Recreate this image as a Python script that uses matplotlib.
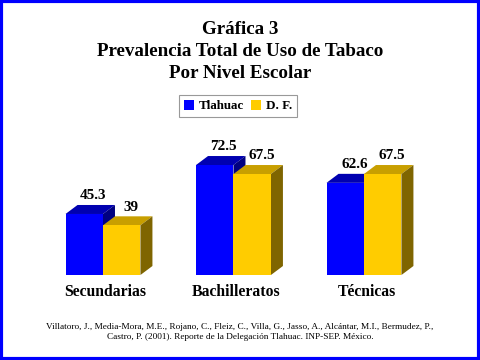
import matplotlib
matplotlib.use("Agg")
import matplotlib.pyplot as plt
from matplotlib.patches import Polygon, Rectangle

categories = ["Secundarias", "Bachilleratos", "Técnicas"]
tlahuac = [45.3, 72.5, 62.6]
df = [39, 67.5, 67.5]
series_names = ["Tlahuac", "D. F."]

title_lines = ["Gráfica 3", "Prevalencia Total de Uso de Tabaco", "Por Nivel Escolar"]
source = ("Villatoro, J., Media-Mora, M.E., Rojano, C., Fleiz, C., Villa, G., Jasso, A., Alcántar, M.I., Bermudez, P.,\n"
          "Castro, P. (2001). Reporte de la Delegación Tlahuac. INP-SEP. México.")

front = ["#0000FF", "#FFCC00"]
top = ["#0000B0", "#C89F00"]
side = ["#000080", "#7F6500"]

serif = ["Liberation Serif", "DejaVu Serif"]

fig = plt.figure(figsize=(4.8, 3.6), dpi=100)
fig.patch.set_facecolor("white")

# blue frame round the slide
fig.add_artist(Rectangle((0.003, 0.004), 0.994, 0.992, transform=fig.transFigure,
                         fill=False, edgecolor="#0000FF", lw=3.0))

for k, line in enumerate(title_lines):
    fig.text(0.5, 1 - (29 + 22 * k) / 360, line, ha="center", va="center",
             fontsize=13.7, fontweight="bold", family=serif)

# bars axis
ax = fig.add_axes([0.0786, 0.2361, 0.8156, 0.343])
ax.set_xlim(-0.5, 2.5)
ax.set_ylim(11.4, 80)
ax.axis("off")

w = 0.287
ddx = 0.092   # depth, x units
ddy = 5.0     # depth, value units
base = 11.4

for i, (a, b) in enumerate(zip(tlahuac, df)):
    for j, v in enumerate((a, b)):
        x0 = i - w if j == 0 else i
        x1 = x0 + w
        ax.bar(x0, v - base, width=w, bottom=base, align="edge",
               color=front[j], edgecolor="none", clip_on=False, zorder=3 + j)
        ax.add_patch(Polygon([(x0, v), (x1, v), (x1 + ddx, v + ddy), (x0 + ddx, v + ddy)],
                             closed=True, facecolor=top[j], edgecolor="none",
                             clip_on=False, zorder=2 + j))
        ax.add_patch(Polygon([(x1, base), (x1, v), (x1 + ddx, v + ddy), (x1 + ddx, base + ddy)],
                             closed=True, facecolor=side[j], edgecolor="none",
                             clip_on=False, zorder=2 + j))
        lbl = ("%g" % v)
        ax.text((x0 + x1) / 2 + 0.07, v + ddy + 1.5, lbl, ha="center", va="bottom",
                fontsize=11, fontweight="bold", family=serif, zorder=6)
    ax.text(i + 0.02, 2.0, categories[i], ha="center", va="center", fontsize=11.3,
            fontweight="bold", family=serif)

# legend
handles = [Rectangle((0, 0), 1, 1, facecolor=c, edgecolor="none") for c in front]
leg = fig.legend(handles, series_names, loc="center", bbox_to_anchor=(0.496, 0.7055),
                 ncol=2, frameon=True, fancybox=False, handlelength=0.75, handleheight=0.9,
                 handletextpad=0.35, columnspacing=0.6, borderpad=0.35, borderaxespad=0,
                 prop={"family": serif, "weight": "bold", "size": 9.4})
leg.get_frame().set_edgecolor("#808080")
leg.get_frame().set_linewidth(0.8)

fig.text(0.5, 1 - 332 / 360, source, ha="center", va="center", fontsize=6.7,
         family=serif, linespacing=1.45)

fig.savefig("out.png", dpi=100)
